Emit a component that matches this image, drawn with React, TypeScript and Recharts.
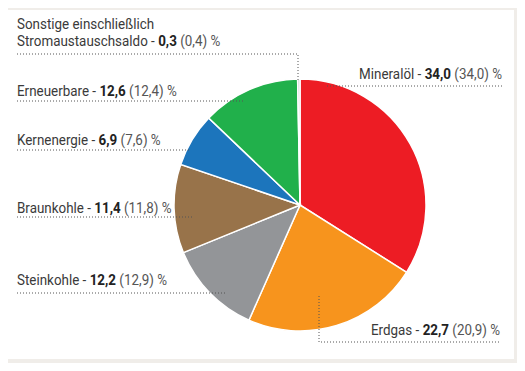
import { PieChart, Pie, Cell } from "recharts";

const names = [
  "Mineralöl",
  "Erdgas",
  "Steinkohle",
  "Braunkohle",
  "Kernenergie",
  "Erneuerbare",
  "Sonstige einschließlich Stromaustauschsaldo",
];
const shares = [34.0, 22.7, 12.2, 11.4, 6.9, 12.6, 0.3];
const prevShares = [34.0, 20.9, 12.9, 11.8, 7.6, 12.4, 0.4];
const colors = ["#ed1c24", "#f7941d", "#939598", "#98734a", "#1c75bc", "#21b04b", "#cfcfcf"];

const data = names.map((name, i) => ({ name, value: shares[i], prev: prevShares[i] }));

const fmt = (v: number) => v.toFixed(1).replace(".", ",");

// label placement (annotation layout only)
const labelLayout: Record<string, { x: number; y: number; anchor: "start" | "end"; line: number[][] }> = {
  "Mineralöl": { x: 502, y: 79, anchor: "end", line: [[327, 86], [502, 86]] },
  "Erdgas": { x: 500, y: 335, anchor: "end", line: [[319, 296], [319, 342], [500, 342]] },
  "Steinkohle": { x: 17, y: 285, anchor: "start", line: [[17, 293], [227, 293]] },
  "Braunkohle": { x: 17, y: 213, anchor: "start", line: [[17, 217], [192, 217]] },
  "Kernenergie": { x: 17, y: 145, anchor: "start", line: [[17, 150], [191, 150]] },
  "Erneuerbare": { x: 17, y: 96, anchor: "start", line: [[17, 101], [245, 101]] },
  "Sonstige einschließlich Stromaustauschsaldo": {
    x: 17,
    y: 46,
    anchor: "start",
    line: [[17, 54], [298, 54], [298, 80]],
  },
};

const FONT = "Roboto, sans-serif";
const FS = 15.5;
const SX = 0.865;

const renderLabel = (props: any) => {
  const { name, value, payload } = props;
  const lay = labelLayout[name];
  if (!lay) return null;
  const words = name.split(" ");
  const isTwoLine = words.length > 2;
  const main = isTwoLine ? words[words.length - 1] : name;
  const pts = lay.line.map((p) => p.join(",")).join(" ");
  return (
    <g>
      <polyline points={pts} fill="none" stroke="#555" strokeWidth={1} strokeDasharray="1 2" />
      {isTwoLine && (
        <text
          transform={`translate(${lay.x},${lay.y - 17}) scale(${SX},1)`}
          fontSize={FS}
          fontFamily={FONT}
          fill="#3a3a3a"
        >
          {words.slice(0, -1).join(" ")}
        </text>
      )}
      <text
        transform={`translate(${lay.x},${lay.y}) scale(${SX},1)`}
        textAnchor={lay.anchor}
        fontSize={FS}
        fontFamily={FONT}
        fill="#3a3a3a"
      >
        <tspan>{main} - </tspan>
        <tspan fontWeight="bold" fill="#222">{fmt(value)}</tspan>
        <tspan fill="#555"> ({fmt(payload.prev)}) %</tspan>
      </text>
    </g>
  );
};

export default function App() {
  return (
    <div style={{ margin: -8, width: 525, height: 371, background: "#f0ede9", position: "relative" }}>
      <div style={{ position: "absolute", left: 8, top: 10, width: 506, height: 349, background: "#fff" }} />
      <div style={{ position: "absolute", left: 0, top: 0 }}>
        <PieChart width={525} height={371} margin={{ top: 0, right: 0, bottom: 0, left: 0 }}>
          <Pie
            data={data}
            dataKey="value"
            nameKey="name"
            cx={300}
            cy={205}
            outerRadius={126}
            startAngle={90}
            endAngle={-270}
            stroke="#fff"
            strokeWidth={1.5}
            label={renderLabel}
            labelLine={false}
            isAnimationActive={false}
          >
            {data.map((d, i) => (
              <Cell key={d.name} fill={colors[i]} />
            ))}
          </Pie>
        </PieChart>
      </div>
    </div>
  );
}
